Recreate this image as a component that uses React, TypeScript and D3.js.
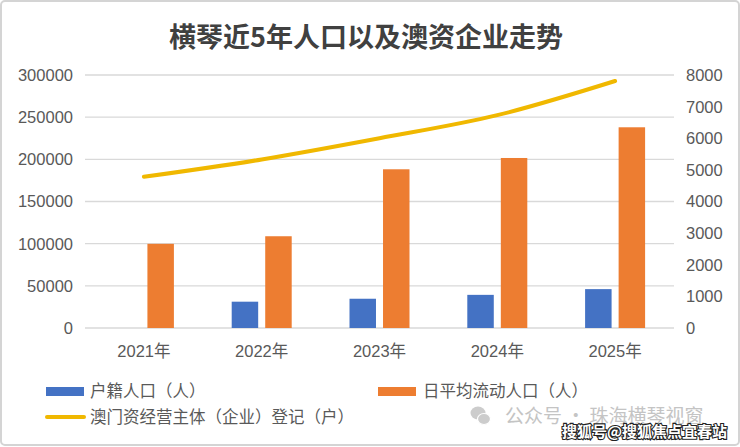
import React from "react";
import { scaleBand, scaleLinear, line, curveMonotoneX } from "d3";

const years = ["2021年", "2022年", "2023年", "2024年", "2025年"];
const registered = [null, 31200, 34700, 39300, 46100];
const floating = [99800, 108800, 188200, 201600, 238000];
const macauFirms = [4780, 5330, 6000, 6730, 7810];
const leftTicks = [0, 50000, 100000, 150000, 200000, 250000, 300000];
const rightTicks = [0, 1000, 2000, 3000, 4000, 5000, 6000, 7000, 8000];

const width = 740;
const height = 447;
const margin = { top: 75, bottom: 119, left: 85, right: 66 };
const innerHeight = height - margin.top - margin.bottom;
const innerWidth = width - margin.left - margin.right;

const blue = "#4472c4";
const orange = "#ed7d31";
const gold = "#f0b800";
const textColor = "#595959";
const font = "'Liberation Sans', Arial, 'Noto Sans CJK SC', sans-serif";
const cjkFont = "'Noto Sans CJK SC', sans-serif";

export default function App() {
  const xScale = scaleBand().domain(years).range([0, innerWidth]);
  const xInner = scaleBand()
    .domain(["registered", "floating"])
    .range([-30, 30])
    .paddingInner(0.21);
  const yLeft = scaleLinear().domain([0, 300000]).range([innerHeight, 0]);
  const yRight = scaleLinear().domain([0, 8000]).range([innerHeight, 0]);

  const cx = (y: string) => (xScale(y) ?? 0) + xScale.bandwidth() / 2;

  const firmLine = line<number>()
    .x((_, i) => cx(years[i]))
    .y((d) => yRight(d))
    .curve(curveMonotoneX);

  return (
    <svg
      width={width}
      height={height}
      style={{ position: "absolute", left: 0, top: 0, background: "#fff" }}
    >
      <rect x={1} y={1} width={width - 2} height={height - 3} rx={4} fill="#fff" stroke="#d4d4d4" strokeWidth={2} />
      <text
        x={366}
        y={47}
        textAnchor="middle"
        fontFamily={cjkFont}
        fontWeight="bold"
        fontSize={27}
        fill="#404040"
      >
        横琴近5年人口以及澳资企业走势
      </text>
      <g transform={`translate(${margin.left}, ${margin.top})`}>
        {leftTicks.map((t) => (
          <g key={t} transform={`translate(0, ${yLeft(t)})`}>
            <line x2={innerWidth} stroke="#d9d9d9" strokeWidth={1.3} />
            <text x={-12} dy="0.36em" textAnchor="end" fontFamily={font} fontSize={16.5} fill={textColor}>
              {t}
            </text>
          </g>
        ))}
        {rightTicks.map((t) => (
          <text
            key={t}
            x={innerWidth + 12}
            y={yRight(t)}
            dy="0.36em"
            fontFamily={font}
            fontSize={16.5}
            fill={textColor}
          >
            {t}
          </text>
        ))}
        {years.map((y) => (
          <text key={y} x={cx(y)} y={innerHeight + 29} textAnchor="middle" fontFamily={font} fontSize={16.5} fill={textColor}>
            {y}
          </text>
        ))}
        {years.map((y, i) =>
          registered[i] == null ? null : (
            <rect
              key={"r" + y}
              x={cx(y) + (xInner("registered") ?? 0)}
              y={yLeft(registered[i] as number)}
              width={xInner.bandwidth()}
              height={innerHeight - yLeft(registered[i] as number)}
              fill={blue}
            />
          )
        )}
        {years.map((y, i) => (
          <rect
            key={"f" + y}
            x={cx(y) + (xInner("floating") ?? 0)}
            y={yLeft(floating[i])}
            width={xInner.bandwidth()}
            height={innerHeight - yLeft(floating[i])}
            fill={orange}
          />
        ))}
        <path d={firmLine(macauFirms) ?? ""} fill="none" stroke={gold} strokeWidth={4} strokeLinecap="round" />
      </g>

      {/* legend */}
      <rect x={46} y={387} width={38} height={9} fill={blue} />
      <text x={90} y={391.5} dy="0.36em" fontFamily={cjkFont} fontSize={16.5} fill={textColor}>
        户籍人口（人）
      </text>
      <rect x={378} y={387} width={38} height={9} fill={orange} />
      <text x={423} y={391.5} dy="0.36em" fontFamily={cjkFont} fontSize={16.5} fill={textColor}>
        日平均流动人口（人）
      </text>
      <line x1={47} x2={84} y1={417} y2={417} stroke={gold} strokeWidth={4} strokeLinecap="round" />
      <text x={90} y={417.5} dy="0.36em" fontFamily={cjkFont} fontSize={16.5} fill={textColor}>
        澳门资经营主体（企业）登记（户）
      </text>

      {/* watermarks */}
      <g fill="#c4c4c4" opacity={0.85}>
        <ellipse cx={478} cy={413} rx={7.5} ry={6.5} />
        <ellipse cx={484} cy={419} rx={6.5} ry={5.5} stroke="#fff" strokeWidth={1.2} />
      </g>
      <text x={505} y={416} dy="0.36em" fontFamily={cjkFont} fontSize={19} fill="#c4c4c4">
        公众号 · 珠海横琴视窗
      </text>
      <text
        x={562}
        y={432}
        dy="0.36em"
        fontFamily={cjkFont}
        fontWeight="bold"
        fontSize={15}
        fill="#fff"
        stroke="#222"
        strokeWidth={2.2}
        paintOrder="stroke"
      >
        搜狐号@搜狐焦点宜春站
      </text>
    </svg>
  );
}
